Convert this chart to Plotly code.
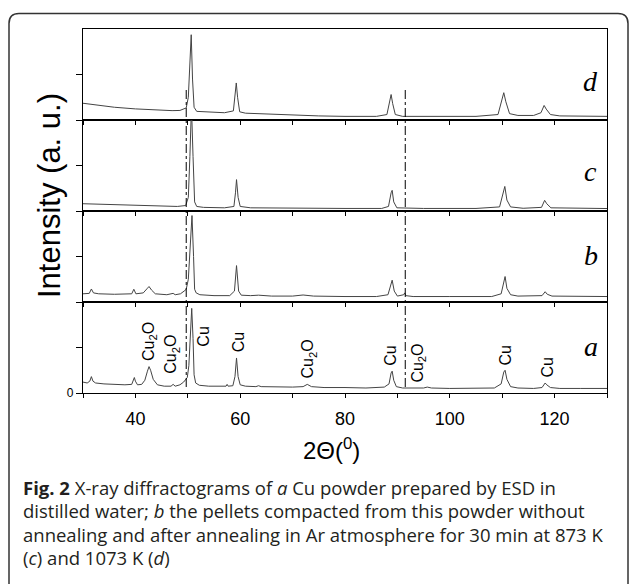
import plotly.graph_objects as go
from plotly.subplots import make_subplots

# ---------------- data ----------------
a_x = [30.0, 30.8, 31.3, 31.6, 31.9, 32.4, 34, 36, 38, 39.3, 39.6, 39.8, 40.0, 40.4, 41.2, 41.8, 42.3, 42.6, 42.9, 43.4, 44.2,
       45.5, 46.8, 47.2, 47.6, 48.5, 49.2, 49.6, 49.9, 50.2, 50.5, 50.75, 51.0, 51.2, 51.5, 52.2, 54, 56, 57.3, 57.5, 57.7,
       58.6, 59.0, 59.3, 59.6, 60.0, 61, 63, 63.5, 64, 67, 70, 72, 72.8, 73.6, 76, 80, 84, 87.5, 88.4, 88.8, 89.0, 89.3,
       89.8, 91, 92, 95, 95.7, 96.5, 100, 105, 108.5, 109.8, 110.3, 110.55, 110.9, 111.6, 113, 116, 117.6, 118.2, 118.5,
       119.2, 121, 125, 130]
a_y = [12, 11, 13, 18, 13, 11, 10, 9.5, 9, 9.5, 14, 17, 13, 9, 9.5, 14, 24, 29, 25, 15, 9,
       7.5, 7.5, 9.5, 7.5, 9, 12, 15, 17, 30, 70, 93, 60, 20, 11, 8.5, 7.5, 7, 7.5, 9.5, 7.5,
       8, 18, 38.5, 18, 9, 7.5, 7, 8, 7, 6.5, 6.5, 7, 9.5, 7, 6, 6, 5.5, 6.5, 10, 22, 24, 14,
       7, 5.5, 5.5, 5.5, 6.5, 5.5, 5, 5, 5.5, 10, 23, 25, 15, 7, 5.5, 5, 6, 11, 9,
       6, 5, 5, 5]

b_x = [30, 31.2, 31.6, 32.0, 33, 36, 39.3, 39.7, 40.1, 41.5, 42.2, 42.6, 43.1, 43.8, 46, 47.2, 47.6, 48.6, 49.3, 49.7,
       50.1, 50.5, 50.8, 51.1, 51.3, 51.6, 52.3, 55, 58, 58.9, 59.3, 59.7, 60.2, 62, 63.5, 66, 70, 72, 74, 80, 86,
       88.2, 88.7, 89.0, 89.4, 90, 91.2, 91.4, 91.6, 93, 100, 108, 109.8, 110.3, 110.55, 110.9, 111.6, 113, 117.6,
       118.2, 118.6, 119.5, 125, 130]
b_y = [9, 9.5, 14.3, 10, 9, 8.5, 9, 14, 9, 10, 14.5, 17, 13, 9, 8, 9.5, 8, 9, 12, 14,
       25, 75, 95, 50, 14, 10, 8, 7, 7, 12, 40, 12, 7.5, 7, 7.5, 6.5, 6.5, 7.7, 6.5, 6, 6,
       8, 18, 24, 12, 6.5, 8, 10, 7, 6, 6, 6, 9, 24, 28, 15, 8, 6.5, 7,
       11.3, 8.5, 6.5, 6, 6]

c_x = [30, 35, 40, 45, 48, 49.6, 50.1, 50.4, 50.7, 51.0, 51.3, 51.7, 53, 57, 58.8, 59.1, 59.3, 59.6, 60, 62, 70, 80,
       87, 88.3, 88.8, 89.0, 89.3, 89.9, 95, 105, 109.5, 110.2, 110.5, 110.9, 111.6, 114, 117.5, 118.1, 118.5, 119.3,
       125, 130]
c_y = [8, 7, 6, 5.5, 5, 6, 15, 60, 115, 60, 10, 5, 4, 3.5, 5, 20, 34.5, 15, 5, 3.5, 3, 2.8,
       2.8, 5, 20, 22.7, 10, 3.5, 2.8, 2.8, 4.5, 22, 27, 12, 4.5, 3, 4, 11.7, 8, 3.5,
       2.7, 2.7]

d_x = [30, 33, 36, 40, 44, 47, 48.5, 49.3, 49.7, 50.1, 50.4, 50.65, 50.9, 51.2, 51.7, 54, 57, 58.7, 59.0, 59.25, 59.5,
       59.9, 61, 65, 70, 75, 80, 86, 88.0, 88.5, 88.8, 89.1, 89.6, 91, 95, 100, 105, 109.2, 109.9, 110.3, 110.7,
       111.4, 113, 116, 117.4, 118.0, 118.4, 119.2, 121, 125, 130]
d_y = [18.4, 16, 14, 12.2, 11, 10.3, 10.5, 12, 13.3, 25, 70, 93.7, 45, 14, 9.5, 8.5, 8, 10, 28, 40.7, 25,
       9, 7.5, 6.5, 5.5, 4.5, 4, 4, 6, 20, 28, 18, 6, 4, 4, 4, 4, 6, 22, 30, 20,
       7, 5, 5, 8, 16, 12, 6, 4.5, 4, 4]

# phase labels on pattern a
label_text = ["Cu<sub>2</sub>O", "Cu<sub>2</sub>O", "Cu", "Cu", "Cu<sub>2</sub>O", "Cu", "Cu<sub>2</sub>O", "Cu", "Cu"]
label_x = [42.6, 46.9, 53.0, 59.7, 73.0, 88.8, 94.0, 110.7, 118.6]
label_y = [56, 42.7, 61.4, 55.3, 37.2, 41, 32.7, 41, 28.3]

# reference (dash-dot) lines
ref_lines_x = [49.7, 91.5]

x_tickvals = [30, 40, 50, 60, 70, 80, 90, 100, 110, 120, 130]
x_ticktext = ["", "40", "", "60", "", "80", "", "100", "", "120", ""]

panel_names = ["d", "c", "b", "a"]          # top to bottom
panel_x = [d_x, c_x, b_x, a_x]
panel_y = [d_y, c_y, b_y, a_y]
letter_y = [42.5, 43.4, 51.5, 51.5]

# ---------------- layout geometry (pixels) ----------------
W, H = 629, 584
ML, MR, MT, MB = 83, 22, 29, 191
PW, PH = W - ML - MR, H - MT - MB


def px2paper(px, py):
    return (px - ML) / PW, (H - MB - py) / PH


fig = make_subplots(rows=4, cols=1, shared_xaxes=True, vertical_spacing=0)

for i, (xs, ys) in enumerate(zip(panel_x, panel_y)):
    fig.add_trace(go.Scatter(x=xs, y=ys, mode="lines",
                             line=dict(color="#444444", width=1),
                             showlegend=False, hoverinfo="skip"),
                  row=i + 1, col=1)

axfont = dict(family="Liberation Sans, Arial, sans-serif", color="black")
for i in range(4):
    r = i + 1
    bottom = (r == 4)
    fig.update_xaxes(row=r, col=1, range=[30, 130], showgrid=False, zeroline=False,
                     showline=True, linecolor="black", linewidth=1.3, mirror=True,
                     ticks="outside", ticklen=4, tickwidth=1, tickcolor="black",
                     tickvals=x_tickvals, ticktext=x_ticktext,
                     showticklabels=bottom, tickfont=dict(size=18, **axfont),
                     ticklabelstandoff=5)
    fig.update_yaxes(row=r, col=1, range=[0, 100], showgrid=False, zeroline=False,
                     showline=True, linecolor="black", linewidth=1.3, mirror=True,
                     ticks="outside", ticklen=6, tickwidth=1, tickcolor="black",
                     tickvals=[0, 50], ticktext=["0" if bottom else "", ""],
                     tickfont=dict(size=12, **axfont))

# phase labels (panel a = row 4 -> x4 / y4)
for t, lx, ly in zip(label_text, label_x, label_y):
    fig.add_annotation(x=lx, y=ly, xref="x4", yref="y4", text=t, textangle=-90,
                       showarrow=False, xanchor="center", yanchor="middle",
                       font=dict(size=16, **axfont))

# panel letters
for i, (nm, ly) in enumerate(zip(panel_names, letter_y)):
    ax = "" if i == 0 else str(i + 1)
    fig.add_annotation(x=126.9, y=ly, xref="x" + ax, yref="y" + ax, text="<i>%s</i>" % nm,
                       showarrow=False, xanchor="center", yanchor="middle",
                       font=dict(size=28, family="Liberation Serif, Times New Roman, serif", color="black"))

# dash-dot reference lines
y0p = px2paper(0, 387)[1]
y1p = px2paper(0, 90)[1]
for lx in ref_lines_x:
    fig.add_shape(type="line", xref="x4", yref="paper", x0=lx, x1=lx, y0=y0p, y1=y1p,
                  line=dict(color="black", width=1, dash="dashdot"))

# axis titles
tx, ty = px2paper(49, 196)
fig.add_annotation(x=tx, y=ty, xref="paper", yref="paper", text="Intensity (a. u.)",
                   textangle=-90, showarrow=False, xanchor="center", yanchor="middle",
                   font=dict(size=31, **axfont))
tx, ty = px2paper(331, 449)
fig.add_annotation(x=tx, y=ty, xref="paper", yref="paper", text="2\u0398(<sup>0</sup>)",
                   showarrow=False, xanchor="center", yanchor="middle",
                   font=dict(size=24, **axfont))

# rounded border frame
L, T, R, B, rad = 9, 13.5, 628, 620, 10
def P(px, py):
    x, y = px2paper(px, py)
    return "%.5f,%.5f" % (x, y)
path = ("M " + P(L, B) + " L " + P(L, T + rad) + " Q " + P(L, T) + " " + P(L + rad, T) +
        " L " + P(R - rad, T) + " Q " + P(R, T) + " " + P(R, T + rad) + " L " + P(R, B))
fig.add_shape(type="path", xref="paper", yref="paper", path=path,
              line=dict(color="#333333", width=1.5))

# caption
caption_lines = [
    "<b>Fig. 2</b> X-ray diffractograms of <i>a</i> Cu powder prepared by ESD in",
    "distilled water; <i>b</i> the pellets compacted from this powder without",
    "annealing and after annealing in Ar atmosphere for 30 min at 873 K",
    "(<i>c</i>) and 1073 K (<i>d</i>)",
]
cap_y = [487, 510.5, 534, 557]
for t, cy in zip(caption_lines, cap_y):
    xx, yy = px2paper(21, cy)
    fig.add_annotation(x=xx, y=yy, xref="paper", yref="paper", text=t, showarrow=False,
                       xanchor="left", yanchor="middle", align="left",
                       font=dict(size=18.5, family="Open Sans, sans-serif", color="#231f20"))

fig.update_layout(width=W, height=H, margin=dict(l=ML, r=MR, t=MT, b=MB),
                  paper_bgcolor="white", plot_bgcolor="white", showlegend=False)

fig.write_html("out.html", config={"displayModeBar": False},
               post_script="document.body.style.margin='0';document.body.style.overflow='hidden';")
